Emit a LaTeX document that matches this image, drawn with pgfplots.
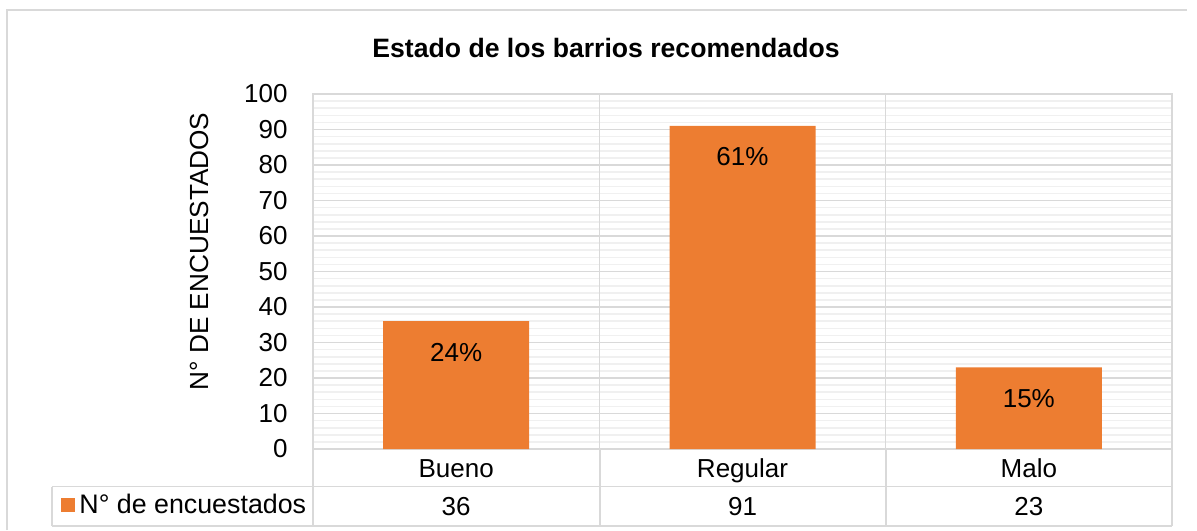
\documentclass[border=0pt]{standalone}
\usepackage{fontspec}
\setmainfont{Liberation Sans}
\usepackage{pgfplots}
\pgfplotsset{compat=1.18}
\definecolor{barorange}{HTML}{ED7D31}
\definecolor{gridmaj}{HTML}{D9D9D9}
\definecolor{gridmin}{HTML}{F0F0F0}
\newcommand\fs{\fontsize{13}{15.6}\selectfont}
\begin{document}
\begin{tikzpicture}
\path[use as bounding box] (0,0) rectangle (598.5pt,-265pt);
\draw[gridmaj, line width=1pt] (3.5pt,-265pt) -- (3.5pt,-5pt) -- (593.5pt,-5pt);
\node[font=\bfseries\fontsize{13.3}{16}\selectfont, anchor=base, inner sep=0pt] at (303pt,-28.5pt) {Estado de los barrios recomendados};
\node[font=\fontsize{13.1}{15.6}\selectfont, rotate=90, anchor=base, inner sep=0pt] at (104pt,-125.75pt) {N° DE ENCUESTADOS};
\begin{axis}[
  at={(156.5pt,-224.5pt)}, anchor=south west,
  scale only axis, width=429.5pt, height=177.5pt,
  xmin=0, xmax=3, ymin=0, ymax=100,
  axis line style={gridmaj, line width=0.8pt},
  xtick={0.5,1.5,2.5}, xticklabels={Bueno,Regular,Malo},
  major tick length=0pt, minor tick length=0pt,
  xticklabel style={anchor=base, inner sep=0pt, yshift=-14pt, font=\fs},
  ytick={0,10,...,100}, minor y tick num=4,
  ymajorgrids, yminorgrids,
  major grid style={gridmaj, line width=0.8pt},
  minor grid style={gridmin, line width=0.8pt},
  extra x ticks={1,2}, extra x tick labels={},
  extra x tick style={grid=major},
  yticklabel style={anchor=east, inner sep=0pt, xshift=-12.5pt, font=\fs},
  /pgf/number format/assume math mode=true,
  clip=false,
  point meta=explicit symbolic,
  nodes near coords,
  nodes near coords style={anchor=center, yshift=-15.5pt, font=\fs, text=black},
]
\addplot[ybar, bar width=73pt, fill=barorange, draw=none] coordinates {(0.5,36) [24\%] (1.5,91) [61\%] (2.5,23) [15\%]};
\node[font=\fs, anchor=base, inner sep=0pt, yshift=-33pt] at (axis cs:0.5,0) {36};
\node[font=\fs, anchor=base, inner sep=0pt, yshift=-33pt] at (axis cs:1.5,0) {91};
\node[font=\fs, anchor=base, inner sep=0pt, yshift=-33pt] at (axis cs:2.5,0) {23};
\end{axis}
\draw[gridmaj, line width=0.8pt] (26pt,-243.25pt) -- (586pt,-243.25pt);
\draw[gridmaj, line width=0.8pt] (26pt,-263pt) -- (586pt,-263pt);
\draw[gridmaj, line width=0.8pt] (26pt,-243.25pt) -- (26pt,-263pt);
\foreach \x in {156.5,300,443,586} \draw[gridmaj, line width=0.8pt] (\x pt,-224.5pt) -- (\x pt,-263pt);
\fill[barorange] (30.5pt,-249pt) rectangle (37.5pt,-256pt);
\node[font=\fontsize{13.4}{16}\selectfont, anchor=base west, inner sep=0pt] at (39.5pt,-256.5pt) {N° de encuestados};
\end{tikzpicture}
\end{document}
